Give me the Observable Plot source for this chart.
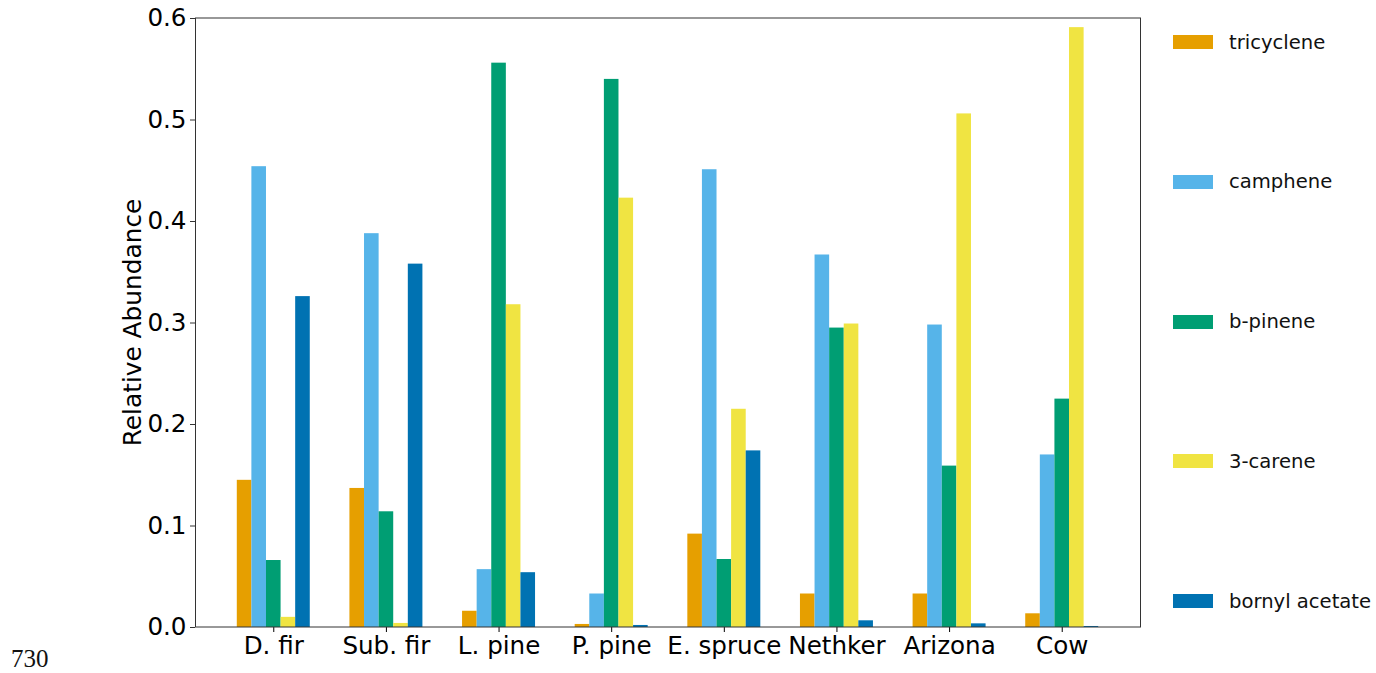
<!DOCTYPE html>
<html>
<head>
<meta charset="utf-8">
<script src="https://cdn.jsdelivr.net/npm/d3@7"></script>
<script src="https://cdn.jsdelivr.net/npm/@observablehq/plot@0.6"></script>
<style>
  html, body { margin: 0; padding: 0; background: #fff; }
  #wrap { position: relative; width: 1376px; height: 673px; overflow: hidden; }
  #legend { position: absolute; left: 0; top: 0; }
  .item { position: absolute; left: 1173px; height: 14px; display: flex; align-items: center; font-family: "DejaVu Sans", sans-serif; font-size: 19.6px; color: #111; white-space: nowrap; }
  .sw { width: 40px; height: 14px; margin-right: 16px; flex: none; }
  #stray { position: absolute; left: 11px; top: 646px; font-family: "Liberation Serif", "Times New Roman", serif; font-size: 25px; color: #111; line-height: 1; }
</style>
</head>
<body>
<div id="wrap"></div>
<script>
const categories = ["D. fir", "Sub. fir", "L. pine", "P. pine", "E. spruce", "Nethker", "Arizona", "Cow"];
const series = ["tricyclene", "camphene", "b-pinene", "3-carene", "bornyl acetate"];
const tricyclene = [0.145, 0.137, 0.016, 0.003, 0.092, 0.033, 0.033, 0.0135];
const camphene   = [0.454, 0.388, 0.057, 0.033, 0.451, 0.367, 0.298, 0.170];
const bPinene    = [0.066, 0.114, 0.556, 0.540, 0.067, 0.295, 0.159, 0.225];
const carene     = [0.010, 0.004, 0.318, 0.423, 0.215, 0.299, 0.506, 0.591];
const bornylAcetate = [0.326, 0.358, 0.054, 0.002, 0.174, 0.0066, 0.0036, 0.001];
const colors = ["#E69F00", "#56B4E9", "#009E73", "#F0E442", "#0072B2"];
const yTicks = [0, 0.1, 0.2, 0.3, 0.4, 0.5, 0.6];
const yLabel = "Relative Abundance";
const strayText = "730";

const seriesValues = [tricyclene, camphene, bPinene, carene, bornylAcetate];
const data = categories.flatMap((c, i) =>
  series.map((s, j) => ({category: c, series: s, value: seriesValues[j][i]}))
);

const W = 1376, H = 673, ML = 195, MR = 236, MT = 18, MB = 46;

function makeChart(axisShift) {
  return Plot.plot({
    width: W,
    height: H,
    marginLeft: ML,
    marginRight: MR,
    marginTop: MT,
    marginBottom: MB,
    facet: {marginRight: 0, marginLeft: 0, marginTop: 0, marginBottom: 0},
    style: {fontFamily: "DejaVu Sans, sans-serif", fontSize: "24.6px", color: "#000", background: "#fff"},
    fx: {domain: categories, paddingInner: 0.352, paddingOuter: 0.371, round: false, label: null, axis: "bottom", tickSize: 5, tickPadding: 4},
    x: {domain: series, padding: 0, round: false, axis: null},
    y: {domain: [0, 0.6], axis: null},
    color: {domain: series, range: colors},
    marks: [
      Plot.barY(data, {fx: "category", x: "series", y: "value", fill: "series"}),
      Plot.axisY(yTicks, {anchor: "left", dx: axisShift, tickFormat: ".1f", tickSize: 5, tickPadding: 4, label: null, stroke: "#333"})
    ]
  });
}

// first pass: find where the leftmost facet starts, so the y axis can sit on the frame edge
const probe = makeChart(0);
const fxScale = probe.scale("fx");
const shift = ML - fxScale.apply(categories[0]);
const chart = makeChart(shift);

const wrap = document.getElementById("wrap");
wrap.appendChild(chart);

// axes frame (spines) drawn around the plotting area using the y scale range
const yr = chart.scale("y").range;
d3.select(chart).append("rect")
  .attr("x", ML + 0.5)
  .attr("y", Math.min(...yr))
  .attr("width", W - ML - MR)
  .attr("height", Math.abs(yr[0] - yr[1]))
  .attr("fill", "none")
  .attr("stroke", "#333")
  .attr("stroke-width", 1);

// y axis title
d3.select(chart).append("text")
  .attr("transform", `translate(132,${(yr[0] + yr[1]) / 2}) rotate(-90)`)
  .attr("text-anchor", "middle")
  .attr("dy", "0.35em")
  .attr("font-family", "DejaVu Sans, sans-serif")
  .attr("font-size", "24.8px")
  .attr("fill", "#000")
  .text(yLabel);

const legend = document.createElement("div");
legend.id = "legend";
series.forEach((s, i) => {
  const item = document.createElement("div");
  item.className = "item";
  item.style.top = (35 + i * 139.8) + "px";
  const sw = document.createElement("div");
  sw.className = "sw";
  sw.style.background = colors[i];
  const label = document.createElement("span");
  label.textContent = s;
  item.appendChild(sw);
  item.appendChild(label);
  legend.appendChild(item);
});
wrap.appendChild(legend);

const stray = document.createElement("div");
stray.id = "stray";
stray.textContent = strayText;
wrap.appendChild(stray);
</script>
</body>
</html>
